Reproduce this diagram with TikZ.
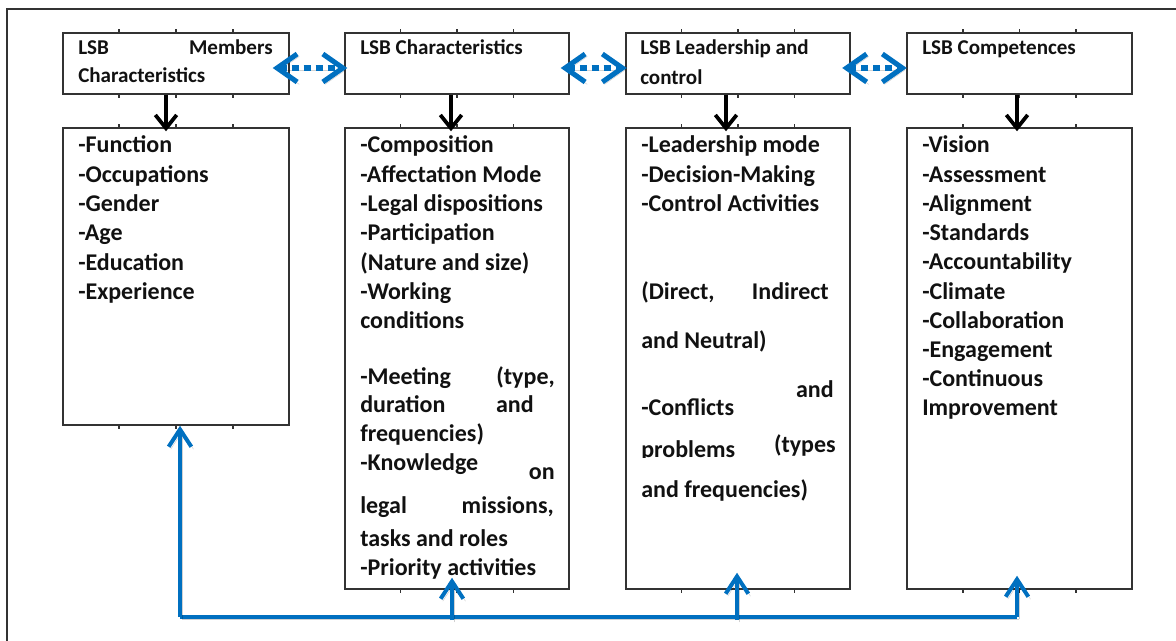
\documentclass[tikz,border=0pt]{standalone}
\usepackage{fontspec}
\setmainfont{Carlito}
\usetikzlibrary{arrows.meta,calc,fit}
\definecolor{lsbblue}{HTML}{0070C0}
\definecolor{ink}{HTML}{111111}
\definecolor{rule}{HTML}{333333}

\begin{document}
\begin{tikzpicture}[x=0.75pt,y=-0.75pt,
  box/.style={draw=rule, line width=1.1pt, rectangle, inner sep=0pt},
  tick/.style={draw=rule, line width=1.1pt},
  hd/.style={font=\fontsize{15.8}{18}\selectfont\bfseries, text=ink, inner sep=0pt, anchor=base west},
  bd/.style={font=\fontsize{18}{22}\selectfont\bfseries, text=ink, inner sep=0pt, anchor=base west},
  rt/.style={anchor=base east},
  down/.style={draw=black, line width=2.8pt, -{Straight Barb[length=10pt,width=16pt]}},
  shade/.style={preaction={draw=black, opacity=0.18, transform canvas={shift={(1.6pt,-1.8pt)}}}},
  feed/.style={draw=lsbblue, line width=3pt, shade},
  feedarrow/.style={feed, -{Straight Barb[length=13pt,width=17pt]}},
  link/.style={draw=lsbblue, line width=3.8pt, dash pattern=on 5.2pt off 3.8pt, shade,
    {Straight Barb[length=15pt,width=21pt]}-{Straight Barb[length=15pt,width=21pt]}}
]
\useasboundingbox (0,0) rectangle (1176,641);

% frame of the figure
\draw[draw=rule, line width=1.5pt] (7,641) -- (7,9.5) -- (1176,9.5);

% header boxes
\node[box, fit={(63,33) (289,94)}] (h1) {};
\node[box, fit={(345,33) (569,94)}] (h2) {};
\node[box, fit={(626,33) (850,94)}] (h3) {};
\node[box, fit={(907,33) (1132,94)}] (h4) {};

% detail boxes
\node[box, fit={(63,128) (289,425)}] (b1) {};
\node[box, fit={(345,128) (569,589)}] (b2) {};
\node[box, fit={(626,128) (850,589)}] (b3) {};
\node[box, fit={(907,128) (1132,589)}] (b4) {};

% table column ticks on the box edges
\foreach \n in {h1,h2,h3,h4,b1,b2,b3,b4} {
  \foreach \k in {0.25,0.5,0.75} {
    \draw[tick] ($(\n.south west)!\k!(\n.south east)$) -- ++(0,3);
    \draw[tick] ($(\n.north west)!\k!(\n.north east)$) -- ++(0,-3);
  }
}

% header texts
\node[hd] (h1a) at (78,55) {LSB};
\node[hd, rt] (h1b) at (273,55) {Members};
\node[hd] (h1c) at (78,83) {Characteristics};
\node[hd] (h2a) at (360,55) {LSB Characteristics};
\node[hd] (h3a) at (640,55) {LSB Leadership and};
\node[hd] (h3b) at (640,85) {control};
\node[hd] (h4a) at (922,55) {LSB Competences};

% members characteristics
\foreach \t [count=\i from 0] in {-Function,-Occupations,-Gender,-Age,-Education,-Experience}
  \node[bd] (m\i) at (78,153+29.3*\i) {\t};

% LSB characteristics
\foreach \t [count=\i from 0] in {-Composition,-Affectation Mode,-Legal dispositions,-Participation,(Nature and size),-Working,conditions}
  \node[bd] (c\i) at (360,153+29.3*\i) {\t};
\node[bd] (c7) at (360,384) {-Meeting};
\node[bd, rt] (c7r) at (555,384) {(type,};
\node[bd] (c8) at (360,412) {duration};
\node[bd, rt] (c8r) at (534,412) {and};
\node[bd] (c9) at (360,441) {frequencies)};
\node[bd] (c10) at (360,470) {-Knowledge};
\node[bd, rt] (c10r) at (555,479) {on};
\node[bd] (c11) at (360,513) {legal};
\node[bd, rt] (c11r) at (554,513) {missions,};
\node[bd] (c12) at (360,546) {tasks and roles};
\node[bd] (c13) at (360,575) {-Priority activities};

% leadership and control
\foreach \t [count=\i from 0] in {-Leadership mode,-Decision-Making,-Control Activities}
  \node[bd] (l\i) at (641,153+29.3*\i) {\t};
\node[bd] (l3) at (641,299) {(Direct,};
\node[bd, rt] (l3r) at (829,299) {Indirect};
\node[bd] (l4) at (641,348) {and Neutral)};
\node[bd, rt] (l5r) at (834,397) {and};
\node[bd] (l5) at (641,415) {-Conflicts};
\begin{scope}
  \clip (630,430) rectangle (760,457.5);
  \node[bd] (l6) at (641,457) {problems};
\end{scope}
\node[bd, rt] (l6r) at (836,452) {(types};
\node[bd] (l7) at (641,497) {and frequencies)};

% competences
\foreach \t [count=\i from 0] in {-Vision,-Assessment,-Alignment,-Standards,-Accountability,-Climate,-Collaboration,-Engagement,-Continuous,Improvement}
  \node[bd] (k\i) at (922,153+29.2*\i) {\t};

% header to detail arrows
\draw[down] ($(h1.south)+(-10,0)$) -- ($(b1.north)+(-10,4)$);
\draw[down] ($(h2.south)+(-6,0)$) -- ($(b2.north)+(-6,4)$);
\draw[down] ($(h3.south)+(-12,0)$) -- ($(b3.north)+(-12,4)$);
\draw[down] ($(h4.south)+(-2.5,0)$) -- ($(b4.north)+(-2.5,4)$);

% two-way links between the headers
\draw[link] ($(h1.east)+(-17,4.5)$) -- ($(h2.west)+(3,4.5)$);
\draw[link] ($(h2.east)+(-9,4.5)$) -- ($(h3.west)+(1.5,4.5)$);
\draw[link] ($(h3.east)+(-8.5,4.5)$) -- ($(h4.west)+(0.5,4.5)$);

% feedback loop along the bottom
\coordinate (j1) at (180,617);
\coordinate (j2) at (452,617);
\coordinate (j3) at (737,617);
\coordinate (j4) at (1017,617);
\draw[feed] (j1) -- (j4);
\draw[feedarrow] (j1) -- (j1 |- b1.south);
\draw[feedarrow] ($(j2)+(0,3)$) -- ($(j2 |- b2.south)+(0,-12)$);
\draw[feedarrow] ($(j3)+(0,3)$) -- ($(j3 |- b3.south)+(0,-17)$);
\draw[feedarrow] (j4) -- ($(j4 |- b4.south)+(0,-14)$);
\end{tikzpicture}
\end{document}
